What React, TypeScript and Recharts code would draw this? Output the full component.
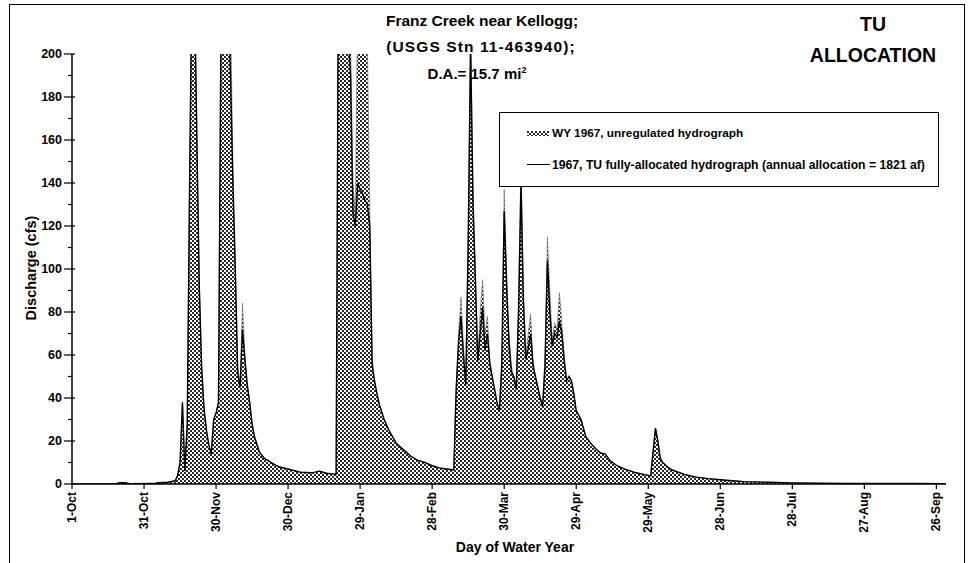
import { ComposedChart, Area, Line, XAxis, YAxis } from "recharts";

// day of water year (0 = 1-Oct) and discharge in cfs
const days = [
  0, 18, 20, 22, 24, 34, 36, 40, 43, 44, 45, 46, 47, 48, 49, 50, 51, 52, 53, 54,
  55, 56, 57, 58, 59, 60, 61, 62, 63, 64, 65, 66, 67, 68, 69, 70, 71, 72, 73, 74,
  75, 76, 78, 80, 83, 86, 90, 95, 100, 103, 106, 110, 111, 112, 113, 114, 115, 116, 117, 118,
  119, 120, 121, 122, 123, 124, 125, 126, 127, 128, 130, 132, 135, 138, 141, 144, 147, 150, 153, 156,
  159, 160, 161, 162, 163, 164, 165, 166, 167, 168, 169, 170, 171, 172, 173, 174, 175, 176, 177, 178,
  179, 180, 181, 182, 183, 184, 185, 186, 187, 188, 189, 190, 191, 192, 193, 194, 195, 196, 197, 198,
  199, 200, 201, 202, 203, 204, 205, 206, 207, 208, 209, 210, 212, 214, 216, 218, 220, 222, 224, 227,
  230, 234, 238, 241, 242, 243, 244, 245, 246, 248, 250, 255, 260, 265, 270, 275, 280, 290, 300, 310,
  320, 330, 340, 350, 364,
];

const unregulated = [
  0, 0, 0.6, 0.6, 0.1, 0.2, 0.6, 0.8, 1.5, 4, 10, 38, 6, 30, 150, 260, 250, 166, 95, 55,
  35, 25, 18, 14, 30, 33, 38, 230, 270, 280, 260, 220, 150, 105, 55, 45, 84, 60, 46, 38,
  28, 22, 15, 12, 10, 8, 7, 5.5, 5.2, 6, 5, 4.5, 260, 300, 280, 250, 230, 210, 140, 125,
  230, 270, 250, 220, 205, 131, 60, 48, 42, 37, 30, 25, 19, 16, 13, 11, 10, 8.5, 7.5, 7,
  6.5, 45, 70, 87, 65, 48, 120, 210, 140, 100, 59, 80, 95, 70, 78, 58, 50, 44, 38, 34,
  60, 137, 100, 70, 55, 50, 44, 90, 150, 90, 60, 70, 79, 58, 50, 45, 40, 36, 60, 115,
  90, 67, 75, 72, 89, 75, 60, 48, 50, 48, 42, 34, 30, 22, 19, 16.5, 14.5, 14, 11, 8.5,
  7, 5.5, 4.5, 3.8, 15, 26, 20, 12, 10, 8, 6.5, 4.5, 3.2, 2.5, 2, 1.5, 1.1, 0.8, 0.5, 0.4,
  0.3, 0.2, 0.2, 0.2, 0.1,
];

const allocated = [
  0, 0, 0.6, 0.6, 0.1, 0.2, 0.6, 0.8, 1.5, 4, 10, 38, 6, 28, 141, 240, 230, 160, 92, 54,
  35, 25, 18, 14, 30, 33, 38, 200, 240, 250, 230, 190, 140, 100, 52, 45, 72, 58, 46, 38,
  28, 22, 15, 12, 10, 8, 7, 5.5, 5.2, 6, 5, 4.5, 250, 280, 260, 230, 210, 190, 126, 120,
  140, 137, 135, 132, 130, 120, 55, 48, 42, 37, 30, 25, 19, 16, 13, 11, 10, 8.5, 7.5, 7,
  6.5, 44, 66, 78, 60, 46, 110, 205, 130, 95, 57, 70, 82, 62, 70, 56, 50, 44, 38, 34,
  55, 127, 92, 65, 52, 50, 44, 80, 140, 85, 58, 63, 70, 55, 50, 45, 40, 36, 55, 104,
  80, 64, 70, 68, 76, 70, 57, 48, 50, 48, 42, 34, 30, 22, 19, 16.5, 14.5, 14, 11, 8.5,
  7, 5.5, 4.5, 3.8, 15, 26, 20, 12, 10, 8, 6.5, 4.5, 3.2, 2.5, 2, 1.5, 1.1, 0.8, 0.5, 0.4,
  0.3, 0.2, 0.2, 0.2, 0.1,
];

const tickDays = [0, 30, 60, 90, 120, 150, 180, 210, 240, 270, 300, 330, 360];
const tickLabels = [
  "1-Oct", "31-Oct", "30-Nov", "30-Dec", "29-Jan", "28-Feb", "30-Mar",
  "29-Apr", "29-May", "28-Jun", "28-Jul", "27-Aug", "26-Sep",
];
const yTicks = [0, 10, 20, 30, 40, 50, 60, 70, 80, 90, 100, 110, 120, 130, 140, 150, 160, 170, 180, 190, 200];

const FONT = "'Liberation Sans', Arial, sans-serif";

const data = days.map((d, i) => ({ day: d, unreg: unregulated[i], alloc: allocated[i] }));

const XTick = (props: any) => {
  const { x, y, payload } = props;
  const label = tickLabels[tickDays.indexOf(payload.value)];
  return (
    <text
      x={x}
      y={y}
      transform={`rotate(-90, ${x}, ${y})`}
      textAnchor="end"
      dominantBaseline="central"
      fontFamily={FONT}
      fontWeight="bold"
      fontSize={12}
      fill="#000"
    >
      {label}
    </text>
  );
};

const YTick = (props: any) => {
  const { x, y, payload } = props;
  const ax = x + 10;
  const major = payload.value % 20 === 0;
  return (
    <g>
      <line x1={major ? ax - 8 : ax - 4} x2={major ? ax + 3 : ax} y1={y} y2={y} stroke="#000" strokeWidth={1.2} />
      {major && (
        <text
          x={ax - 10}
          y={y}
          textAnchor="end"
          dominantBaseline="central"
          fontFamily={FONT}
          fontWeight="bold"
          fontSize={12.5}
          fill="#000"
        >
          {payload.value}
        </text>
      )}
    </g>
  );
};

const textBase = {
  position: "absolute" as const,
  fontFamily: FONT,
  fontWeight: "bold" as const,
  color: "#000",
  whiteSpace: "nowrap" as const,
  lineHeight: 1,
};

const App = () => {
  return (
    <div style={{ position: "absolute", left: 0, top: 0, width: 969, height: 563, overflow: "hidden", background: "#fff" }}>
      <div
        style={{
          position: "absolute",
          left: 9,
          top: 4,
          width: 954,
          height: 600,
          borderLeft: "1.5px solid #000",
          borderTop: "1.5px solid #000",
          borderRight: "1.5px solid #000",
        }}
      />
      <ComposedChart width={969} height={563} data={data} margin={{ top: 54, right: 23, bottom: 29, left: 32 }}>
        <defs>
          <pattern id="stipple" width="4" height="4" patternUnits="userSpaceOnUse">
            <rect width="4" height="4" fill="#fff" />
            <rect x="0" y="0" width="2" height="2" fill="#2a2a2a" />
            <rect x="2" y="2" width="2" height="2" fill="#2a2a2a" />
          </pattern>
        </defs>
        <XAxis
          dataKey="day"
          type="number"
          domain={[0, 364]}
          ticks={tickDays}
          interval={0}
          height={50}
          tick={<XTick />}
          tickSize={5}
          tickMargin={3}
          axisLine={{ stroke: "#000", strokeWidth: 1.5 }}
          tickLine={{ stroke: "#000", strokeWidth: 1.2 }}
        />
        <YAxis
          type="number"
          domain={[0, 200]}
          ticks={yTicks}
          interval={0}
          allowDataOverflow
          width={40}
          tick={<YTick />}
          tickSize={8}
          tickMargin={2}
          tickLine={false}
          axisLine={{ stroke: "#000", strokeWidth: 1.5 }}
        />
        <Area
          type="linear"
          dataKey="unreg"
          fill="url(#stipple)"
          fillOpacity={1}
          stroke="#666"
          strokeWidth={0.6}
          isAnimationActive={false}
        />
        <Line
          type="linear"
          dataKey="alloc"
          stroke="#000"
          strokeWidth={1.4}
          dot={false}
          isAnimationActive={false}
        />
      </ComposedChart>

      <div style={{ ...textBase, left: 482, top: 21, transform: "translate(-50%, -50%)", fontSize: 15.5 }}>
        Franz Creek near Kellogg;
      </div>
      <div style={{ ...textBase, left: 481, top: 47, transform: "translate(-50%, -50%)", fontSize: 15.5, letterSpacing: 1.1 }}>
        (USGS Stn 11-463940);
      </div>
      <div style={{ ...textBase, left: 477, top: 73, transform: "translate(-50%, -50%)", fontSize: 15 }}>
        D.A.= 15.7 mi<sup style={{ fontSize: 9, verticalAlign: "6px" }}>2</sup>
      </div>
      <div style={{ ...textBase, left: 873, top: 25, transform: "translate(-50%, -50%)", fontSize: 19.5 }}>
        TU
      </div>
      <div style={{ ...textBase, left: 873, top: 56, transform: "translate(-50%, -50%)", fontSize: 19.5 }}>
        ALLOCATION
      </div>

      <div
        style={{
          ...textBase,
          left: 31,
          top: 268,
          transform: "translate(-50%, -50%) rotate(-90deg)",
          fontSize: 14.5,
        }}
      >
        Discharge (cfs)
      </div>
      <div style={{ ...textBase, left: 515, top: 547, transform: "translate(-50%, -50%)", fontSize: 14 }}>
        Day of Water Year
      </div>

      <div
        style={{
          position: "absolute",
          left: 499,
          top: 112,
          width: 440,
          height: 75,
          boxSizing: "border-box",
          border: "1.5px solid #000",
          background: "#fff",
        }}
      >
        <svg style={{ position: "absolute", left: 27, top: 18 }} width={22} height={5}>
          <rect width={22} height={5} fill="url(#stipple)" />
        </svg>
        <div style={{ ...textBase, left: 52, top: 21, transform: "translateY(-50%)", fontSize: 11.8 }}>
          WY 1967, unregulated hydrograph
        </div>
        <div style={{ position: "absolute", left: 27, top: 51, width: 23, height: 1.4, background: "#000" }} />
        <div style={{ ...textBase, left: 52, top: 52, transform: "translateY(-50%)", fontSize: 12.2 }}>
          1967, TU fully-allocated hydrograph (annual allocation = 1821 af)
        </div>
      </div>
    </div>
  );
};

export default App;
